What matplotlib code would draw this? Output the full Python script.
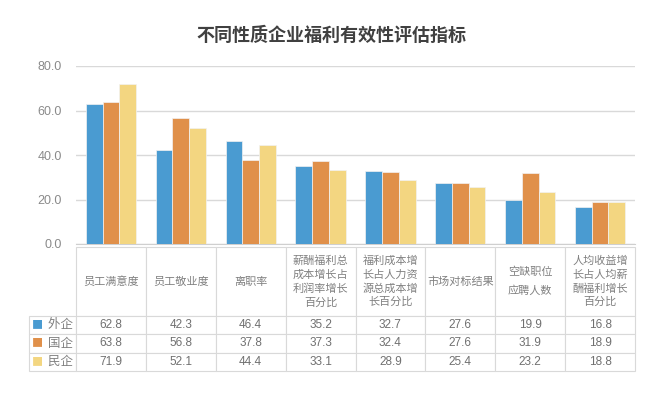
import matplotlib
matplotlib.use("Agg")
import matplotlib.pyplot as plt
import numpy as np

plt.rcParams['font.family'] = ['Liberation Sans', 'Noto Sans CJK SC', 'DejaVu Sans']

# data
categories = ["员工满意度", "员工敬业度", "离职率",
              "薪酬福利总\n成本增长占\n利润率增长\n百分比",
              "福利成本增\n长占人力资\n源总成本增\n长百分比",
              "市场对标结果", "空缺职位\n应聘人数",
              "人均收益增\n长占人均薪\n酬福利增长\n百分比"]
series_names = ["外企", "国企", "民企"]
foreign = [62.8, 42.3, 46.4, 35.2, 32.7, 27.6, 19.9, 16.8]
state = [63.8, 56.8, 37.8, 37.3, 32.4, 27.6, 31.9, 18.9]
private = [71.9, 52.1, 44.4, 33.1, 28.9, 25.4, 23.2, 18.8]
colors = ["#4a9bd1", "#e0904a", "#f3d681"]

series = [foreign, state, private]

W, H = 662, 393
fig = plt.figure(figsize=(W / 100, H / 100), dpi=100)

# plot area in pixels
ax_l, ax_r, ax_t, ax_b = 76, 635, 66, 244
ax = fig.add_axes([ax_l / W, 1 - ax_b / H, (ax_r - ax_l) / W, (ax_b - ax_t) / H])

x = np.arange(len(categories))
bw = 0.24
for i, vals in enumerate(series):
    ax.bar(x + (i - 1) * bw, vals, bw, color=colors[i], edgecolor="#f2f2f2",
           linewidth=0.5, zorder=3)

ax.set_xlim(-0.5, len(categories) - 0.5)
ax.set_ylim(0, 80)
ax.set_yticks([0, 20, 40, 60, 80])
ax.set_yticklabels([f"{v:.1f}" for v in [0, 20, 40, 60, 80]])
ax.tick_params(axis="y", length=0, pad=10, labelsize=9, labelcolor="#8a8a8a")
ax.set_xticks([])
ax.grid(axis="y", color="#d9d9d9", linewidth=1, zorder=0)
for s in ["top", "right", "left"]:
    ax.spines[s].set_visible(False)
ax.spines["bottom"].set_color("#cfcfcf")

# table underneath (bbox covers header + data cells, row labels hang to the left)
aw, ah = ax_r - ax_l, ax_b - ax_t
tb_t, tb_b = 247, 371
head_h = 69 / ah
row_h = (371 - 316) / 3 / ah
lab_w = 46 / aw
col_w = 1 / len(categories)

cell_text = [[f"{v:.1f}" for v in vals] for vals in series]
tbl = ax.table(cellText=cell_text, rowLabels=["    " + n for n in series_names],
               colLabels=categories, cellLoc="center", rowLoc="left",
               bbox=[0, (ax_b - tb_b) / ah, 1, (tb_b - tb_t) / ah])
tbl.auto_set_font_size(False)
for (r, c), cell in tbl.get_celld().items():
    cell.set_edgecolor("#d9d9d9")
    cell.set_linewidth(0.8)
    cell.set_height(head_h if r == 0 else row_h)
    cell.set_width(lab_w if c == -1 else col_w)
    t = cell.get_text()
    if r == 0:
        t.set_fontsize(8)
        t.set_color("#808080")
        t.set_linespacing(2.0 if categories[c].startswith("空缺") else 1.4)
    elif c == -1:
        t.set_fontsize(9)
        t.set_color("#808080")
    else:
        t.set_fontsize(8.5)
        t.set_color("#707070")

# colour squares in legend column
for i, n in enumerate(series_names):
    yc = 316 + (371 - 316) / 3 * (i + 0.5)
    ax.text((37 - ax_l) / aw, (ax_b - yc) / ah, "■", transform=ax.transAxes,
            color=colors[i], fontsize=8, ha="center", va="center",
            family=["Noto Sans CJK SC", "DejaVu Sans"], clip_on=False)

fig.text(0.5, 1 - 35 / H, "不同性质企业福利有效性评估指标", ha="center", va="center",
         fontsize=13, fontweight="bold", color="#404040",
         family=["Noto Sans CJK SC", "DejaVu Sans"])

fig.savefig("out.png", dpi=100)
